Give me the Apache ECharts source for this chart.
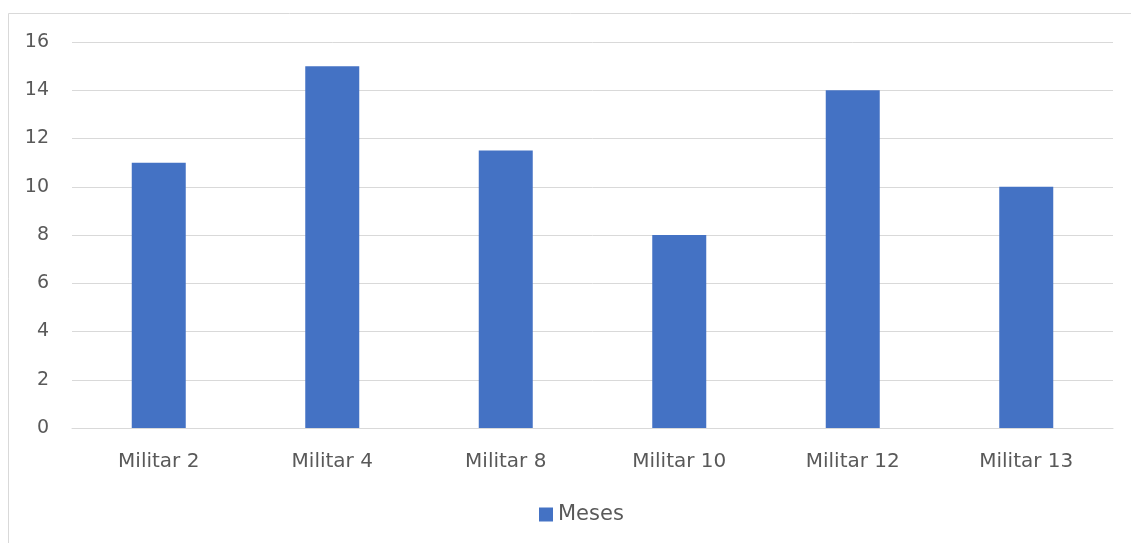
<!DOCTYPE html>
<html>
<head>
<meta charset="utf-8">
<script src="https://cdn.jsdelivr.net/npm/echarts@6/dist/echarts.min.js"></script>
<style>
  html, body { margin: 0; padding: 0; background: #fff; }
  #chart { width: 1131px; height: 543px; }
</style>
</head>
<body>
<div id="chart"></div>
<script>
// Months of service per soldier
const categories = ['Militar 2', 'Militar 4', 'Militar 8', 'Militar 10', 'Militar 12', 'Militar 13'];
const meses = [11, 15, 11.5, 8, 14, 10];
const seriesName = 'Meses';

const FONT = '"DejaVu Sans", "Open Sans", sans-serif';
const TEXT = '#595959';

const chart = echarts.init(document.getElementById('chart'), null, { renderer: 'canvas' });
chart.setOption({
  animation: false,
  backgroundColor: '#fff',
  graphic: [{
    type: 'rect',
    shape: { x: 8.5, y: 13.5, width: 1140, height: 560 },
    style: { fill: 'none', stroke: '#d9d9d9', lineWidth: 1 }
  }],
  grid: { left: 72, right: 18, top: 42, bottom: 115, containLabel: false },
  legend: {
    top: 499,
    left: 534,
    itemWidth: 14,
    itemHeight: 14,
    itemGap: 7,
    icon: 'rect',
    textStyle: { color: TEXT, fontSize: 21, fontFamily: FONT },
    data: [seriesName]
  },
  xAxis: {
    type: 'category',
    data: categories,
    axisLine: { show: true, lineStyle: { color: '#d9d9d9', width: 1 } },
    axisTick: { show: false },
    axisLabel: { color: TEXT, fontSize: 20, fontFamily: FONT, margin: 24 }
  },
  yAxis: {
    type: 'value',
    min: 0,
    max: 16,
    interval: 2,
    axisLine: { show: false },
    axisTick: { show: false },
    splitLine: { lineStyle: { color: '#d9d9d9', width: 1 } },
    axisLabel: { color: TEXT, fontSize: 19, fontFamily: FONT, margin: 23 }
  },
  series: [{
    name: seriesName,
    type: 'bar',
    data: meses,
    barWidth: 54,
    itemStyle: { color: '#4472C4' }
  }]
});
</script>
</body>
</html>
